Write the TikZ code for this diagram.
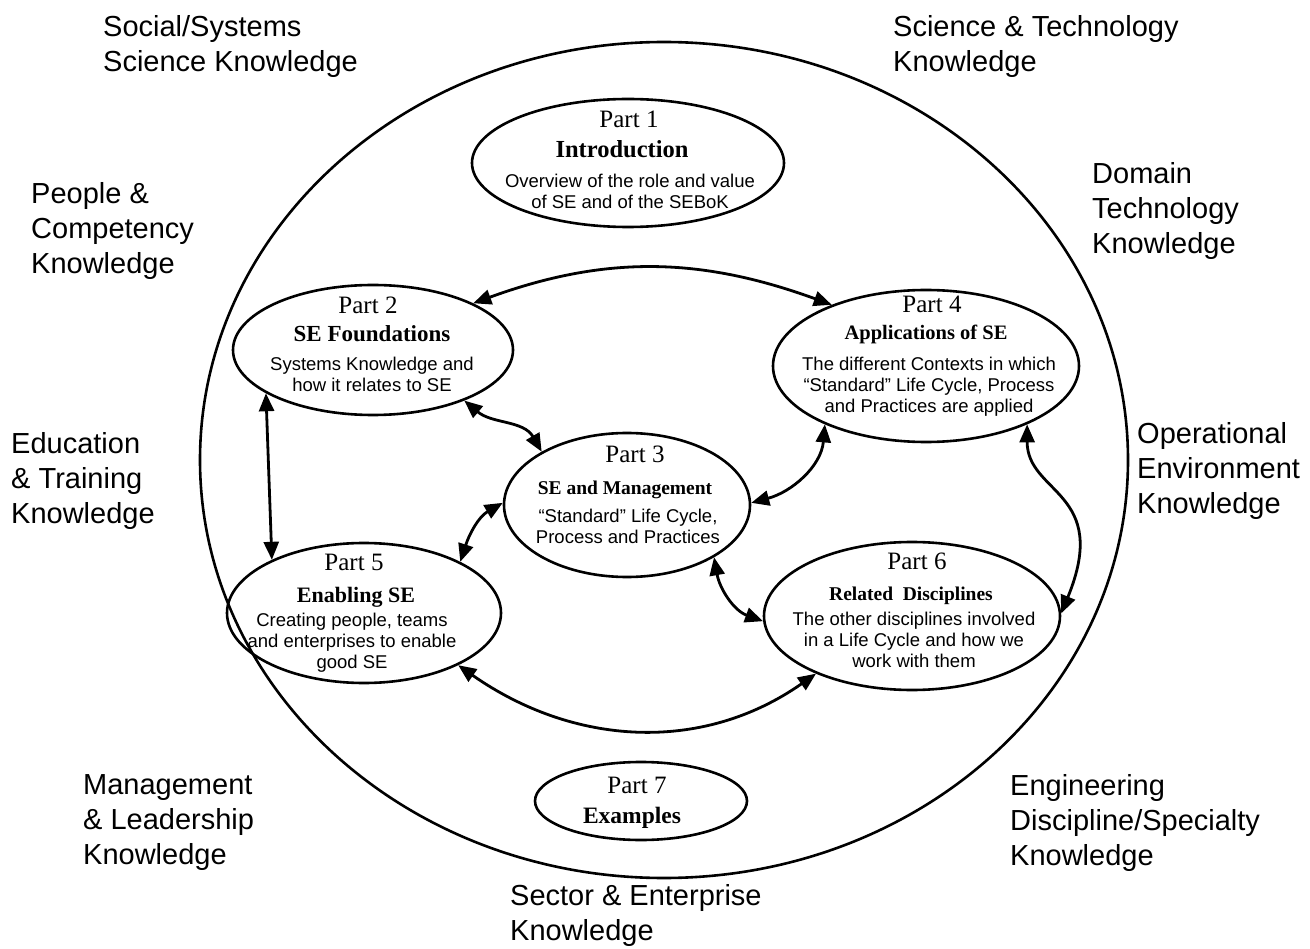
\documentclass[tikz,border=0pt]{standalone}
\usepackage{fontspec}
\setmainfont{Liberation Serif}
\newfontfamily\arial{Liberation Sans}
\usetikzlibrary{shapes.geometric,arrows.meta}
\begin{document}
\begin{tikzpicture}[x=1pt,y=1pt,
  part/.style={draw, ellipse, line width=2.6pt, inner sep=0pt},
  lbl/.style={anchor=north west, inner sep=0pt, align=left, font=\arial\fontsize{29}{35}\selectfont},
  ptxt/.style={anchor=base, inner sep=0pt, font=\fontsize{25}{29}\selectfont},
  ttl/.style={anchor=base, inner sep=0pt},
  body/.style={anchor=north, inner sep=0pt, align=center, font=\arial\fontsize{18.5}{21}\selectfont},
  arr/.style={{Triangle[length=18pt,width=15pt]}-{Triangle[length=18pt,width=15pt]}, line width=2.8pt}
]
\useasboundingbox (0,0) rectangle (1310,-949);

% outer ellipse
\node[part, minimum width=928pt, minimum height=836pt] (outer) at (664,-460) {};

% part ellipses
\node[part, minimum width=312pt, minimum height=128pt] (p1) at (628,-163) {};
\node[part, minimum width=280pt, minimum height=130pt] (p2) at (373,-350) {};
\node[part, minimum width=306pt, minimum height=152pt] (p4) at (926,-366) {};
\node[part, minimum width=246pt, minimum height=144pt] (p3) at (627,-505) {};
\node[part, minimum width=274pt, minimum height=140pt] (p5) at (364,-613) {};
\node[part, minimum width=296pt, minimum height=148pt] (p6) at (912,-616) {};
\node[part, minimum width=212pt, minimum height=78pt] (p7) at (641,-801) {};

% Part 1
\node[ptxt] (t1) at (629,-128) {Part 1};
\node[ttl, font=\bfseries\fontsize{24.5}{28}\selectfont] (h1) at (622,-158) {Introduction};
\node[body] (b1) at (630,-173.5) {Overview of the role and value\\of SE and of the SEBoK};

% Part 2
\node[ptxt] (t2) at (368,-314) {Part 2};
\node[ttl, font=\bfseries\fontsize{23}{27}\selectfont] (h2) at (372,-342) {SE Foundations};
\node[body] (b2) at (372,-356.5) {Systems Knowledge and\\how it relates to SE};

% Part 4
\node[ptxt] (t4) at (932,-313) {Part 4};
\node[ttl, font=\bfseries\fontsize{20.5}{24}\selectfont] (h4) at (926,-340) {Applications of SE};
\node[body] (b4) at (929,-356.5) {The different Contexts in which\\“Standard” Life Cycle, Process\\and Practices are applied};

% Part 3
\node[ptxt] (t3) at (635,-463) {Part 3};
\node[ttl, font=\bfseries\fontsize{19.5}{23}\selectfont] (h3) at (625,-494) {SE and Management};
\node[body] (b3) at (628,-508.5) {“Standard” Life Cycle,\\Process and Practices};

% Part 5
\node[ptxt] (t5) at (354,-570) {Part 5};
\node[ttl, font=\bfseries\fontsize{22}{26}\selectfont] (h5) at (356,-602) {Enabling SE};
\node[body] (b5) at (352,-612.5) {Creating people, teams\\and enterprises to enable\\good SE};

% Part 6
\node[ptxt] (t6) at (917,-569) {Part 6};
\node[ttl, font=\bfseries\fontsize{19.5}{23}\selectfont] (h6) at (911,-600) {Related\ \ Disciplines};
\node[body] (b6) at (914,-611.5) {The other disciplines involved\\in a Life Cycle and how we\\work with them};

% Part 7
\node[ptxt] (t7) at (637,-793) {Part 7};
\node[ttl, font=\bfseries\fontsize{23.5}{27}\selectfont] (h7) at (632,-823) {Examples};

% outer labels
\node[lbl] (l1) at (103,-15) {Social/Systems\\Science Knowledge};
\node[lbl] (l2) at (893,-15) {Science \& Technology\\Knowledge};
\node[lbl] (l3) at (31,-182) {People \&\\Competency\\Knowledge};
\node[lbl] (l4) at (1092,-162) {Domain\\Technology\\Knowledge};
\node[lbl] (l5) at (11,-432) {Education\\\& Training\\Knowledge};
\node[lbl] (l6) at (1137,-422) {Operational\\Environment\\Knowledge};
\node[lbl] (l7) at (83,-774) {Management\\\& Leadership\\Knowledge};
\node[lbl] (l8) at (1010,-774) {Engineering\\Discipline/Specialty\\Knowledge};
\node[lbl] (l9) at (510,-884) {Sector \& Enterprise\\Knowledge};

% connectors
\draw[arr] (p2.25) to[out=20,in=160] (p4.147);
\draw[arr] (p2.-29) to[out=-40,in=120] (p3.148);
\draw[arr] (p3.179) to[out=-150,in=72] (p5.28);
\draw[arr] (p4.-150) to[out=-95,in=15] (p3.1);
\draw[arr] (p3.-31) to[out=-80,in=160] (p6.182);
\draw[arr] (p4.-30) .. controls +(0,-70) and +(50,122) .. (p6.1);
\draw[arr] (p5.-29) to[out=-35,in=-145] (p6.-149);
\draw[arr] (p2.-158) -- (p5.150);
\end{tikzpicture}
\end{document}
